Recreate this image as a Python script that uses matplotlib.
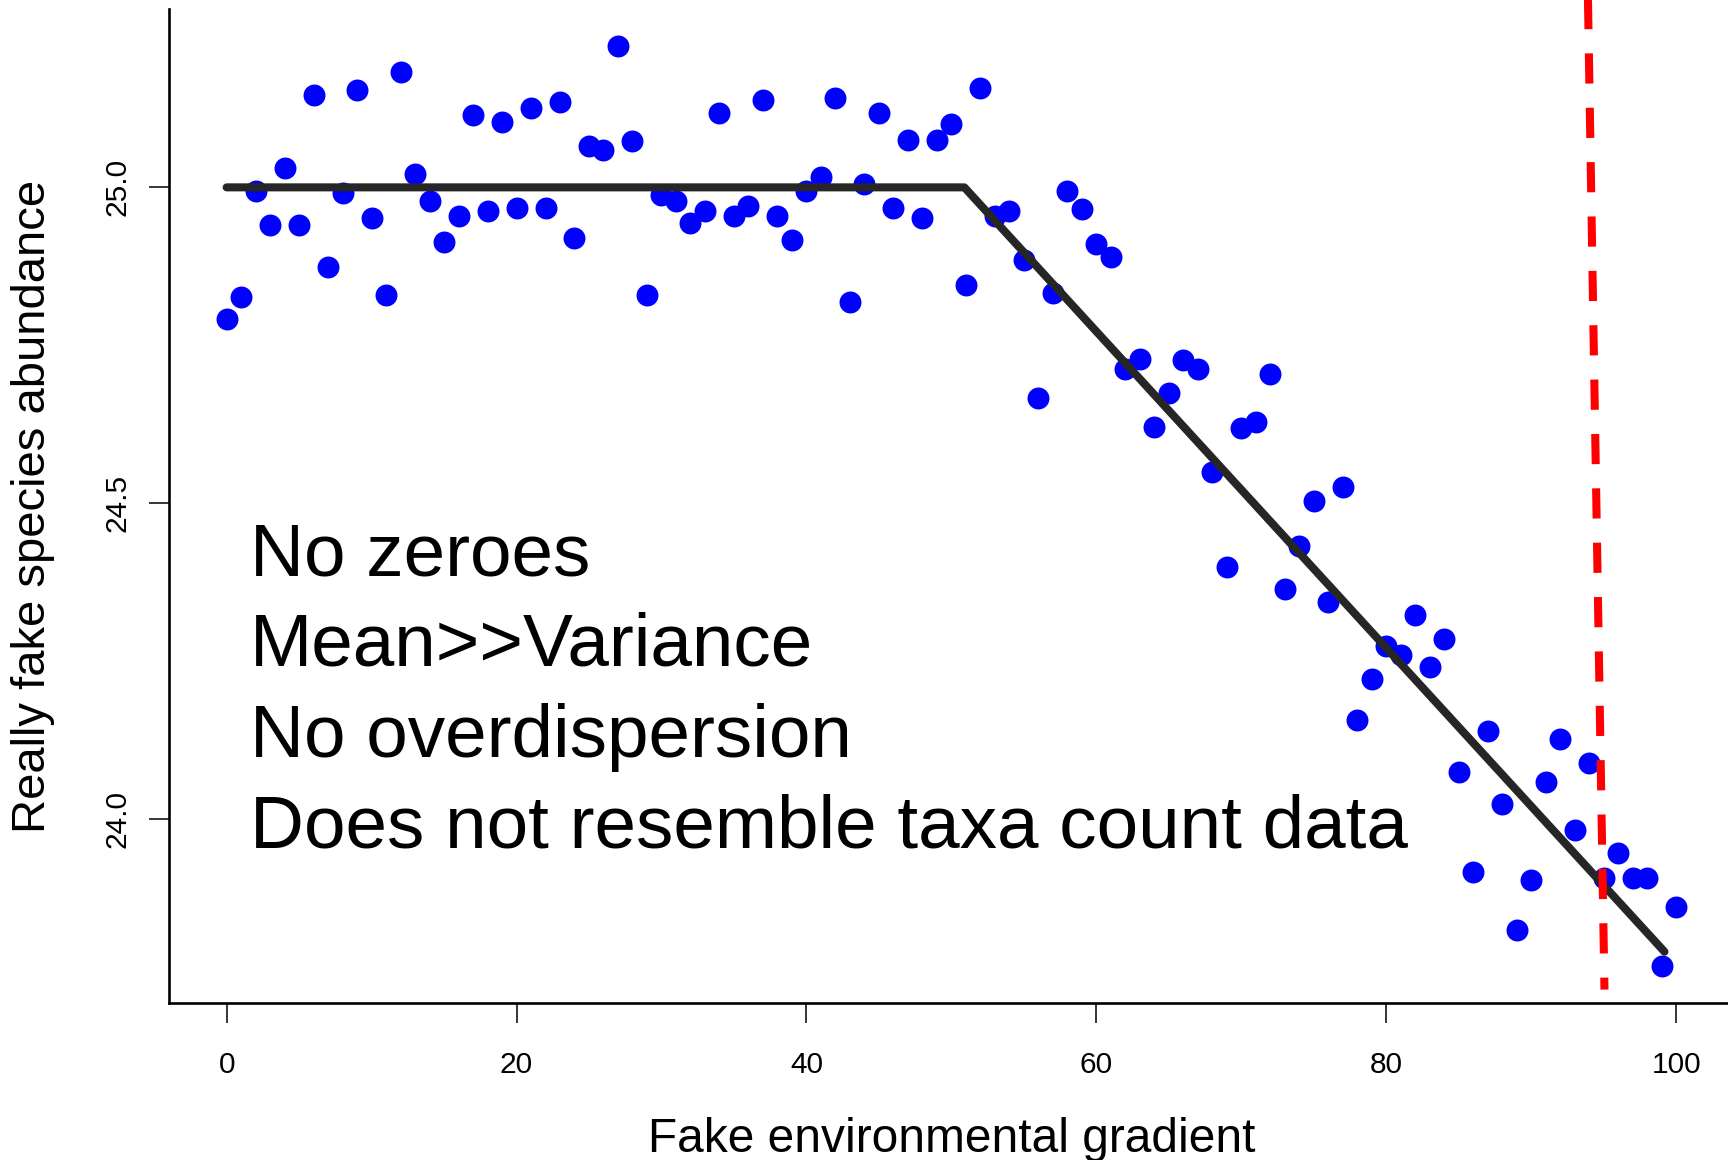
import matplotlib
matplotlib.use("Agg")
import matplotlib.pyplot as plt
import numpy as np

plt.rcParams["font.family"] = ["Liberation Sans", "DejaVu Sans"]

# Simulated species abundance along a gradient
gradient = np.arange(0, 101)
abundance = [
    24.792, 24.827, 24.995, 24.940, 25.031, 24.940, 25.147, 24.874, 24.991, 25.154,
    24.951, 24.830, 25.182, 25.021, 24.979, 24.913, 24.955, 25.114, 24.962, 25.103,
    24.967, 25.126, 24.967, 25.135, 24.920, 25.066, 25.059, 25.224, 25.073, 24.830,
    24.988, 24.979, 24.944, 24.963, 25.117, 24.955, 24.970, 25.138, 24.955, 24.916,
    24.995, 25.016, 25.142, 24.818, 25.005, 25.117, 24.967, 25.075, 24.951, 25.075,
    25.100, 24.846, 25.157, 24.955, 24.962, 24.885, 24.666, 24.832, 24.995, 24.965,
    24.911, 24.890, 24.713, 24.729, 24.621, 24.675, 24.727, 24.713, 24.549, 24.399,
    24.619, 24.628, 24.705, 24.364, 24.432, 24.503, 24.343, 24.526, 24.157, 24.222,
    24.274, 24.260, 24.323, 24.240, 24.285, 24.075, 23.916, 24.140, 24.024, 23.825,
    23.904, 24.059, 24.126, 23.983, 24.089, 23.907, 23.946, 23.906, 23.907, 23.767,
    23.860,
]

# Broken-stick fit: plateau then linear decline
fit_x = [0.0, 50.9, 99.2]
fit_y = [25.0, 25.0, 23.79]

# Threshold marker
threshold_x = [93.92, 95.06]
threshold_y = [25.30, 23.73]

x_ticks = [0, 20, 40, 60, 80, 100]
y_ticks = [24.0, 24.5, 25.0]
y_tick_labels = ["24.0", "24.5", "25.0"]

notes = [
    "No zeroes",
    "Mean>>Variance",
    "No overdispersion",
    "Does not resemble taxa count data",
]

fig = plt.figure(figsize=(17.28, 11.60), dpi=100)
ax = fig.add_axes([0.0976, 0.1353, 0.9059, 0.8569])

# R-style 4% axis padding
xr = gradient.max() - gradient.min()
ax.set_xlim(gradient.min() - 0.04 * xr, gradient.max() + 0.04 * xr)
ymin, ymax = min(abundance), max(abundance)
yr = ymax - ymin
ax.set_ylim(ymin - 0.04 * yr, ymax + 0.04 * yr)

ax.plot(gradient, abundance, linestyle="none", marker="o", markersize=15.8,
        markerfacecolor="#0000ff", markeredgewidth=0, zorder=2)
ax.plot(fit_x, fit_y, color="#262626", linewidth=5.8,
        solid_capstyle="round", solid_joinstyle="round", zorder=3)
ax.plot(threshold_x, threshold_y, color="#ff0000", linewidth=5.8,
        linestyle=(0, (3.75, 3.0)), dash_capstyle="butt",
        clip_on=False, zorder=4)

# Annotation block
base_y = 24.386
step = 0.1435
for i, line in enumerate(notes):
    ax.text(1.58, base_y - i * step, line, fontsize=53.8, color="black",
            ha="left", va="baseline", zorder=5)

for side in ("top", "right"):
    ax.spines[side].set_visible(False)
for side in ("left", "bottom"):
    ax.spines[side].set_linewidth(1.9)
    ax.spines[side].set_color("black")

ax.set_xticks(x_ticks)
ax.set_xticklabels([str(t) for t in x_ticks])
ax.set_yticks(y_ticks)
ax.set_yticklabels(y_tick_labels)
ax.tick_params(axis="both", direction="out", length=14.4, width=1.1,
               color="black", labelsize=21.5)
ax.tick_params(axis="x", pad=20)
ax.tick_params(axis="y", pad=12, labelrotation=90)
for lab in ax.get_yticklabels():
    lab.set_va("center")

ax.set_xlabel("Fake environmental gradient", fontsize=34.5)
ax.xaxis.set_label_coords(0.5, -0.150)
ax.xaxis.label.set_va("baseline")
ax.set_ylabel("Really fake species abundance", fontsize=34)
ax.yaxis.set_label_coords(-0.0866, 0.5)
ax.yaxis.label.set_va("center")

fig.savefig("out.png", dpi=100, facecolor="white")
